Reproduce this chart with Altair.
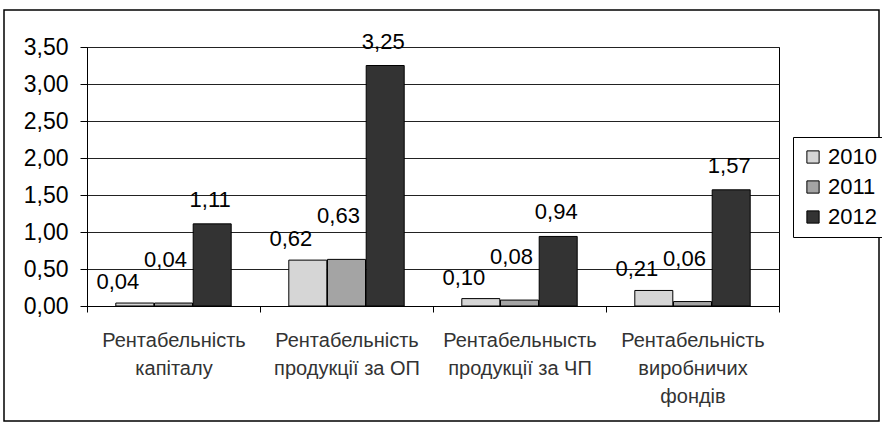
import altair as alt
import pandas as pd

categories = [
    "Рентабельність\nкапіталу",
    "Рентабельність\nпродукції за ОП",
    "Рентабельнысть\nпродукції за ЧП",
    "Рентабельність\nвиробничих\nфондів",
]
years = ["2010", "2011", "2012"]
v2010 = [0.04, 0.62, 0.10, 0.21]
v2011 = [0.04, 0.63, 0.08, 0.06]
v2012 = [1.11, 3.25, 0.94, 1.57]
y_ticks = [0.0, 0.5, 1.0, 1.5, 2.0, 2.5, 3.0, 3.5]
colors = ["#d6d6d6", "#a4a4a4", "#333333"]

rows = []
for yr, vals in zip(years, [v2010, v2011, v2012]):
    for c, v in zip(categories, vals):
        rows.append({"cat": c, "year": yr, "value": v,
                     "label": f"{v:.2f}".replace(".", ",")})
df = pd.DataFrame(rows)

FONT = "Liberation Sans"

x_enc = alt.X(
    "cat:N", sort=categories, title=None,
    scale=alt.Scale(paddingInner=0, paddingOuter=0),
    axis=alt.Axis(
        labelAngle=0, tickBand="extent", tickSize=6, tickColor="black",
        domainColor="black", labelFont=FONT, labelFontSize=20,
        labelColor="#333", labelPadding=18, labelLineHeight=28,
        labelExpr="split(datum.label, '\\n')", labelBaseline="top",
    ),
)
xoff = alt.XOffset("year:N", sort=years,
                   scale=alt.Scale(paddingOuter=0.735, paddingInner=0))
y_enc = alt.Y(
    "value:Q", title=None,
    scale=alt.Scale(domain=[0, 3.5], nice=False, zero=True),
    axis=alt.Axis(
        values=y_ticks, labelExpr="replace(format(datum.value, '.2f'), '.', ',')",
        labelOverlap=False, labelFlush=False,
        grid=True, gridColor="#222", gridWidth=1, tickColor="black", tickSize=7,
        domainColor="black", labelFont=FONT, labelFontSize=23, labelColor="black",
        labelPadding=12,
    ),
)

base = alt.Chart(df)
bars = base.mark_bar(stroke="black", strokeWidth=1, size=38).encode(
    x=x_enc, xOffset=xoff, y=y_enc,
    fill=alt.Fill("year:N", sort=years,
                  scale=alt.Scale(domain=years, range=colors),
                  legend=alt.Legend(
                      title=None, orient="none", legendX=706, legendY=90,
                      symbolType="square", symbolSize=150,
                      symbolStrokeColor="black", symbolStrokeWidth=1,
                      labelFont=FONT, labelFontSize=22, labelColor="black",
                      strokeColor="black", fillColor="white", padding=9,
                      rowPadding=8, labelOffset=4,
                  )),
)

offsets = {"2010": (-17, -9), "2011": (-8, -31), "2012": (-2, -12)}
texts = []
for yr in years:
    dx, dy = offsets[yr]
    texts.append(
        base.transform_filter(alt.datum.year == yr)
        .mark_text(font=FONT, fontSize=22, color="black", baseline="bottom",
                   dx=dx, dy=dy)
        .encode(x=x_enc, xOffset=xoff, y=y_enc, text="label:N")
    )

frame = alt.Chart(alt.Data(values=[{}])).mark_rect(
    fill=None, stroke="black", strokeWidth=1.5
).encode(x=alt.value(-83), x2=alt.value(792), y=alt.value(-37), y2=alt.value(374))

chart = alt.layer(bars, *texts, frame).properties(
    width=692, height=259,
    autosize=alt.AutoSizeParams(type="none"),
    padding={"left": 87, "top": 47, "right": 103, "bottom": 121},
    background="white",
).configure_view(stroke="black", strokeWidth=1)

chart.save("out.html", embed_options={"renderer": "svg", "actions": False})
